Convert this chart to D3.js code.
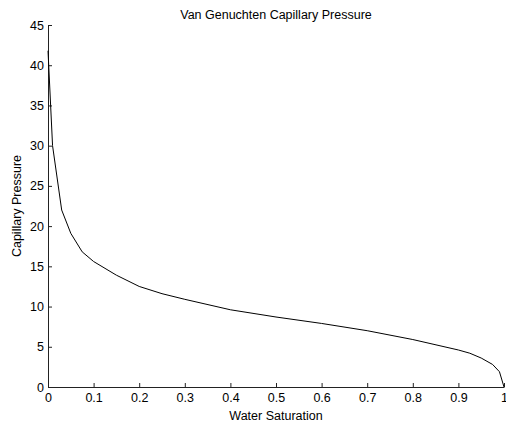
<!DOCTYPE html>
<html>
<head>
<meta charset="utf-8">
<script src="https://cdn.jsdelivr.net/npm/d3@7"></script>
<style>
body { margin: 0; background: #fff; }
text { font-family: "Liberation Sans", Arial, sans-serif; }
</style>
</head>
<body>
<script>
let width = 506;
let height = 423;

// water saturation and capillary pressure
let saturation = [0, 0.01, 0.03, 0.05, 0.075, 0.1, 0.15, 0.2, 0.25, 0.3, 0.4, 0.5, 0.6, 0.7, 0.8, 0.9, 0.925, 0.95, 0.975, 0.99, 1];
let pressure = [41.8, 30, 22, 19.1, 16.8, 15.6, 13.9, 12.5, 11.6, 10.9, 9.6, 8.7, 7.9, 7.0, 5.9, 4.6, 4.2, 3.6, 2.8, 1.9, 0];

let xTicks = [0, 0.1, 0.2, 0.3, 0.4, 0.5, 0.6, 0.7, 0.8, 0.9, 1];
let yTicks = [0, 5, 10, 15, 20, 25, 30, 35, 40, 45];

let margin = {left: 48, right: 2, top: 25, bottom: 36};
let fontSize = 12.5;

let x = d3.scaleLinear()
.domain([0, 1])
.range([margin.left, width - margin.right]);

let y = d3.scaleLinear()
.domain([0, 45])
.range([height - margin.bottom, margin.top]);

let svg = d3.select('body')
.append('svg')
.attr('width', width)
.attr('height', height);

let xAxis = d3.axisBottom(x)
.tickValues(xTicks)
.tickFormat(d3.format('~g'))
.tickSizeInner(-4)
.tickSizeOuter(0)
.tickPadding(6);

let yAxis = d3.axisLeft(y)
.tickValues(yTicks)
.tickSizeInner(-4)
.tickSizeOuter(0)
.tickPadding(4);

let gx = svg.append('g')
.attr('transform', 'translate(0,' + (height - margin.bottom) + ')')
.call(xAxis);

let gy = svg.append('g')
.attr('transform', 'translate(' + margin.left + ',0)')
.call(yAxis);

svg.selectAll('.domain, .tick line')
.attr('stroke', '#222')
.attr('stroke-width', 1);

svg.selectAll('.tick text')
.attr('font-size', fontSize)
.attr('fill', '#000')
.style('font-family', '"Liberation Sans", Arial, sans-serif');

let line = d3.line()
.x(function(d, i){ return x(saturation[i]); })
.y(function(d){ return y(d); });

svg.append('path')
.datum(pressure)
.attr('d', line)
.attr('fill', 'none')
.attr('stroke', '#000')
.attr('stroke-width', 1);

svg.append('text')
.attr('x', (margin.left + width - margin.right) / 2)
.attr('y', 19)
.attr('text-anchor', 'middle')
.attr('font-size', fontSize)
.text('Van Genuchten Capillary Pressure');

svg.append('text')
.attr('x', (margin.left + width - margin.right) / 2)
.attr('y', 420)
.attr('text-anchor', 'middle')
.attr('font-size', fontSize)
.text('Water Saturation');

svg.append('text')
.attr('transform', 'translate(21,' + ((margin.top + height - margin.bottom) / 2) + ') rotate(-90)')
.attr('text-anchor', 'middle')
.attr('font-size', fontSize)
.text('Capillary Pressure');
</script>
</body>
</html>
